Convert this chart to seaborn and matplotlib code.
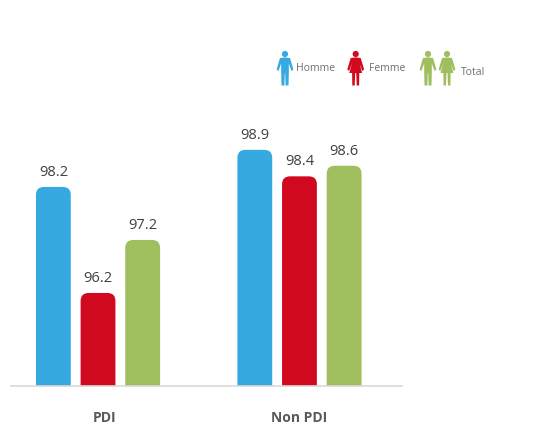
import matplotlib
matplotlib.use("Agg")
import matplotlib.pyplot as plt
import pandas as pd
import seaborn as sns
from matplotlib.patches import Circle, FancyBboxPatch, Polygon
from matplotlib.transforms import ScaledTranslation

categories = ["PDI", "Non PDI"]
genres = ["Homme", "Femme", "Total"]
homme = [98.2, 98.9]
femme = [96.2, 98.4]
total = [97.2, 98.6]

couleurs = {"Homme": "#36A9E1", "Femme": "#D0091E", "Total": "#9FBE5D"}

df = pd.DataFrame({
    "categorie": categories * 3,
    "genre": [g for g in genres for _ in categories],
    "valeur": homme + femme + total,
})

sns.set_theme(style="white")
plt.rcParams["font.family"] = ["Open Sans", "DejaVu Sans"]

W, H = 552, 438
fig = plt.figure(figsize=(W / 100, H / 100), dpi=100)
ax = fig.add_axes([11 / W, (H - 386) / H, (402 - 11) / W, (386 - 100) / H])

sns.barplot(data=df, x="categorie", y="valeur", hue="genre", order=categories,
            hue_order=genres, palette=couleurs, width=0.665, gap=0.22,
            saturation=1, errorbar=None, legend=False, ax=ax)

ax.set_xlim(-0.432, 1.509)
ax.set_ylim(94.445, 99.84)
ax.set_xlabel("")
ax.set_ylabel("")
ax.set_yticks([])
ax.tick_params(axis="x", length=0, pad=18)
for lab in ax.get_xticklabels():
    lab.set_fontsize(10)
    lab.set_fontweight("bold")
    lab.set_color("#595959")
# le libelle PDI n'est pas centre sous son groupe dans l'original
pdi = ax.get_xticklabels()[0]
pdi.set_transform(pdi.get_transform() + ScaledTranslation(7 / 100, 0, fig.dpi_scale_trans))
sns.despine(ax=ax, left=True)
ax.spines["bottom"].set_color("#D9D9D9")
ax.spines["bottom"].set_linewidth(1.2)

# barres arrondies : on remplace chaque rectangle par une boite arrondie
ax_w = ax.get_window_extent().width / (ax.get_xlim()[1] - ax.get_xlim()[0])
ax_h = ax.get_window_extent().height / (ax.get_ylim()[1] - ax.get_ylim()[0])
rayon = 8 / ax_w
for cont in ax.containers:
    ax.bar_label(cont, fmt="%.1f", padding=5, fontsize=10.5, color="#404040")
    for bar in cont:
        boite = FancyBboxPatch((bar.get_x(), bar.get_y()), bar.get_width(), bar.get_height(),
                               boxstyle=f"round,pad=0,rounding_size={rayon}",
                               mutation_aspect=ax_w / ax_h,
                               facecolor=bar.get_facecolor(), edgecolor="none", zorder=2)
        ax.add_patch(boite)
        bar.set_visible(False)

# legende dessinee a la main, en pixels
leg = fig.add_axes([0, 0, 1, 1], facecolor="none")
leg.set_xlim(0, W)
leg.set_ylim(H, 0)
leg.axis("off")


def personnage(cx, haut, couleur, femme=False):
    leg.add_patch(Circle((cx, haut + 3), 3.1, color=couleur, lw=0))
    droite = [(1, 6.5), (5, 7), (8.4, 18.5), (6.6, 20), (3.8, 12.5)]
    if femme:
        droite += [(6.4, 22), (3.6, 22), (3.4, 34.5), (1, 34.5), (0.5, 22)]
    else:
        droite += [(3.8, 22), (3.5, 34.5), (0.6, 34.5), (0.2, 22)]
    gauche = [(-x, y) for x, y in reversed(droite)]
    corps = [(cx + x, haut + y) for x, y in droite + gauche]
    leg.add_patch(Polygon(corps, closed=True, color=couleur, lw=0))


personnage(285, 51, couleurs["Homme"])
personnage(355.7, 51, couleurs["Femme"], femme=True)
personnage(428, 51, couleurs["Total"])
personnage(447, 51, couleurs["Total"], femme=True)

for x, y, texte in [(296, 68.5, "Homme"), (369, 68.5, "Femme"), (461, 72.5, "Total")]:
    leg.text(x, y, texte, fontsize=7.5, color="#6E6E6E", va="center", ha="left")

fig.savefig("out.png", dpi=100)
